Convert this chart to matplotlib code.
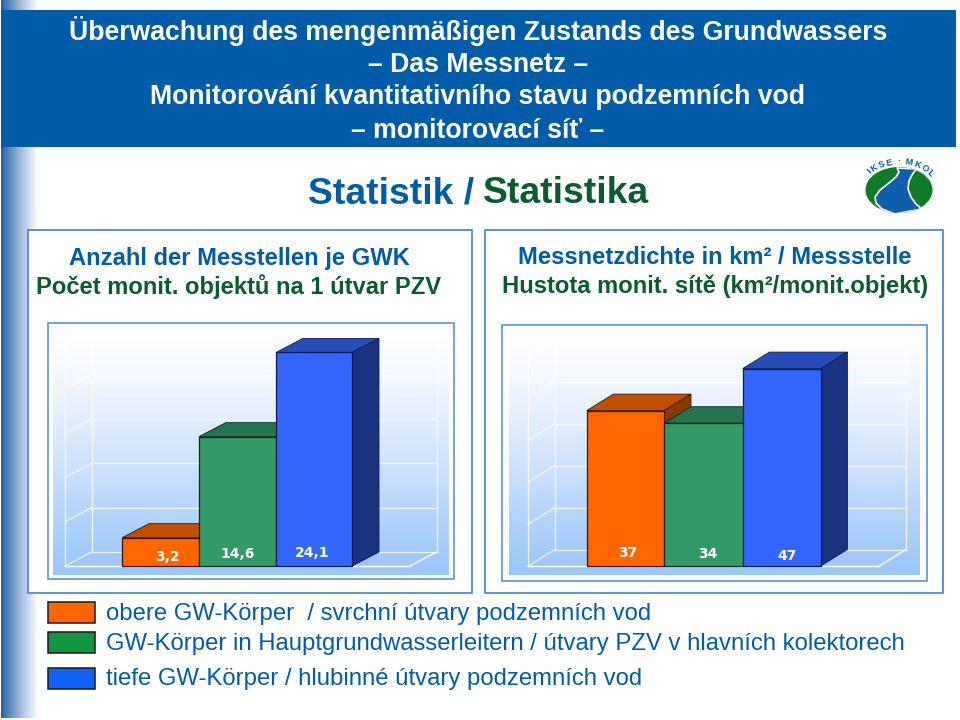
"""Slide: monitoring network statistics, two pseudo-3D bar charts with header and legend."""
import matplotlib
matplotlib.use('Agg')
import matplotlib.pyplot as plt
from matplotlib.colors import to_rgb
import numpy as np
from matplotlib.patches import Ellipse, Polygon, Rectangle

plt.rcParams['font.family'] = ['Liberation Sans', 'DejaVu Sans']

LEFT_VALUES = [3.2, 14.6, 24.1]
LEFT_LABELS = ['3,2', '14,6', '24,1']
RIGHT_VALUES = [37, 34, 47]
RIGHT_LABELS = ['37', '34', '47']

FRONT = ['#ff6600', '#339966', '#3366ff']
TOP = ['#c05000', '#267350', '#264db8']
SIDE = ['#8a3a00', '#1a5038', '#1a337f']
EDGE = ['#3a1800', '#0d2a1c', '#0d1a50']

HEADER = ['Überwachung des mengenmäßigen Zustands des Grundwassers',
          '– Das Messnetz –',
          'Monitorování kvantitativního stavu podzemních vod',
          '– monitorovací síť –']
LEGEND = ['obere GW-Körper  / svrchní útvary podzemních vod',
          'GW-Körper in Hauptgrundwasserleitern / útvary PZV v hlavních kolektorech',
          'tiefe GW-Körper / hlubinné útvary podzemních vod']
LEGEND_SWATCH = ['#ff6600', '#109640', '#0f62f5']

INK = '#005ca8'
GREEN_INK = '#0a5c2e'
FRAME = '#3f7fd8'
PANEL_LINE = '#5b93d8'

fig = plt.figure(figsize=(9.6, 7.2), dpi=100)
bg = fig.add_axes([0, 0, 1, 1])
bg.set_xlim(0, 960)
bg.set_ylim(720, 0)
bg.axis('off')


def vgrad(ax, x0, x1, y0, y1, z=1):
    # mostly white upper part, then down to the light blue floor
    t = np.linspace(0, 1, 256)
    stops = [0, 0.22, 0.5, 0.75, 1]
    cols = np.array([to_rgb(c) for c in ['#ffffff', '#f2f7ff', '#d4e6fd', '#b5d5fb', '#99c6fa']])
    img = np.stack([np.interp(t, stops, cols[:, k]) for k in range(3)], axis=1)[:, None, :]
    ax.imshow(img, extent=[x0, x1, y1, y0], aspect='auto', zorder=z, interpolation='bilinear')


# left fading stripe
t = np.linspace(0, 1, 64)
c0 = np.array(to_rgb('#1f5fa8'))
stripe = (c0 + (1 - c0)[None, :] * (t ** 0.9)[:, None])[None, :, :]
bg.imshow(stripe, extent=[1, 38, 718, 0], aspect='auto', zorder=1)
bg.add_patch(Rectangle((1, 10), 955, 137, fc='#005ca8', ec='none', zorder=2))

for y, line in zip([31, 65.5, 97.5, 130.5], HEADER):
    bg.text(478, y, line, color='white', fontsize=19.2, fontweight='bold', ha='center', va='center', zorder=3)

bg.text(308, 203, 'Statistik /', color=INK, fontsize=26.8, fontweight='bold', ha='left', va='baseline', zorder=3)
bg.text(483, 203, 'Statistika', color=GREEN_INK, fontsize=26.8, fontweight='bold', ha='left', va='baseline', zorder=3)

# logo
logo = Ellipse((899, 190), 67, 46, fc='#0f7a28', ec='none', zorder=3)
bg.add_patch(logo)
river = Polygon([(897, 168), (899, 172), (896, 177), (889, 183), (880, 190), (875, 197), (876, 203), (882, 209), (895, 214),
                 (922, 209), (916, 204), (911, 197), (908, 189), (909, 181), (912, 175), (916, 169)],
                fc='#0f5fae', ec='white', lw=1.2, joinstyle='round', zorder=4)
bg.add_patch(river)
river.set_clip_path(logo)
for ch, x, y, rot in zip('IKSE·MKOL', [869, 874, 882, 889, 899, 909, 917, 925, 930], [171, 168, 165, 163, 162, 162, 165, 169, 173],
                         [45, 30, 20, 10, 0, -10, -20, -30, -45]):
    bg.text(x, y, ch, color=INK, fontsize=6.5, fontweight='bold', ha='center', va='center', rotation=rot, zorder=5)


def panel(outer, inner, fill, base, xs, dx, dy, px_per_unit, values, labels, label_xy, wall, step):
    ox0, oy0, ox1, oy1 = outer
    bg.add_patch(Rectangle((ox0, oy0), ox1 - ox0, oy1 - oy0, fc='white', ec=FRAME, lw=1.2, zorder=2))
    ix0, iy0, ix1, iy1 = inner
    bg.add_patch(Rectangle((ix0, iy0), ix1 - ix0, iy1 - iy0, fc='white', ec=PANEL_LINE, lw=1.2, zorder=2))
    fx0, fy0, fx1, fy1 = fill
    vgrad(bg, fx0, fx1, fy0, fy1, z=2.1)

    ax = fig.add_axes([fx0 / 960, 1 - fy1 / 720, (fx1 - fx0) / 960, (fy1 - fy0) / 720])
    ax.patch.set_alpha(0)
    ax.axis('off')
    ax.set_xlim(fx0, fx1)
    # value axis: zero sits on the chart's floor line
    ax.set_ylim(-(fy1 - base) / px_per_unit, (base - fy0) / px_per_unit)
    du = dy / px_per_unit

    # back wall grid
    gx0, gx1 = wall
    top = 5 * step
    for gv in np.arange(0, top + step, step):
        ax.plot([gx0, gx1], [gv + du, gv + du], color='white', lw=0.9, alpha=0.8, zorder=1)
        ax.plot([gx0 - dx, gx0], [gv, gv + du], color='white', lw=0.9, alpha=0.8, zorder=1)
    ax.plot([gx0, gx0], [du, top + du], color='white', lw=0.9, alpha=0.8, zorder=1)
    ax.plot([gx1, gx1], [du, top + du], color='white', lw=0.9, alpha=0.8, zorder=1)
    ax.plot([gx0 - dx, gx0 - dx], [0, top], color='white', lw=0.9, alpha=0.8, zorder=1)
    ax.plot([gx0 - dx, gx1 - dx], [0, 0], color='white', lw=1.0, zorder=1)
    ax.plot([gx1 - dx, gx1], [0, du], color='white', lw=1.0, zorder=1)

    for i, (val, lab) in enumerate(zip(values, labels)):
        x0, x1 = xs[i], xs[i + 1]
        ax.bar(x0, val, width=x1 - x0, align='edge', color=FRONT[i], edgecolor=EDGE[i], lw=0.9, zorder=3 + 2 * i)
        ax.add_patch(Polygon([(x0, val), (x0 + dx, val + du), (x1 + dx, val + du), (x1, val)],
                             fc=TOP[i], ec=EDGE[i], lw=0.6, zorder=2 + 2 * i))
        ax.add_patch(Polygon([(x1, 0), (x1 + dx, du), (x1 + dx, val + du), (x1, val)],
                             fc=SIDE[i], ec=EDGE[i], lw=0.6, zorder=2 + 2 * i))
        lx, ly = label_xy[i]
        ax.text(lx, (base - ly) / px_per_unit, lab, color='white', fontsize=10, fontweight='bold',
                ha='center', va='center', zorder=20, family='DejaVu Sans')


panel((28, 230, 472, 593), (48, 323, 454, 579), (53, 326, 449, 575), 566,
      [122.3, 199, 276, 352.3], 26.7, 14, 8.86, LEFT_VALUES, LEFT_LABELS,
      [(167, 557), (238, 554), (312, 553)], (91.7, 436.7), 5)
panel((485, 230, 943, 593), (502, 325, 927, 581), (509, 329, 920, 575), 566,
      [586.7, 664.3, 742.7, 820.7], 26.7, 16.5, 4.2, RIGHT_VALUES, RIGHT_LABELS,
      [(628, 553), (708, 554), (787, 556)], (555, 906), 10)

bg.text(239, 258.5, 'Anzahl der Messtellen je GWK', color=INK, fontsize=17.15, fontweight='bold', ha='center', va='center', zorder=3)
bg.text(239, 287, 'Počet monit. objektů na 1 útvar PZV', color=GREEN_INK, fontsize=17.15, fontweight='bold', ha='center', va='center', zorder=3)
bg.text(715, 258, 'Messnetzdichte in km² / Messstelle', color=INK, fontsize=17.15, fontweight='bold', ha='center', va='center', zorder=3)
bg.text(715, 286, 'Hustota monit. sítě (km²/monit.objekt)', color=GREEN_INK, fontsize=17.15, fontweight='bold', ha='center', va='center', zorder=3)

for y, sy, line, col in zip([614, 644, 679], [602, 632, 668], LEGEND, LEGEND_SWATCH):
    bg.add_patch(Rectangle((48, sy), 47, 21, fc=col, ec='#1a1a1a', lw=1.1, zorder=3))
    bg.text(106, y, line, color=INK, fontsize=17.2, ha='left', va='center', zorder=3)

bg.set_xlim(0, 960)
bg.set_ylim(720, 0)
fig.savefig('out.png', dpi=100)
